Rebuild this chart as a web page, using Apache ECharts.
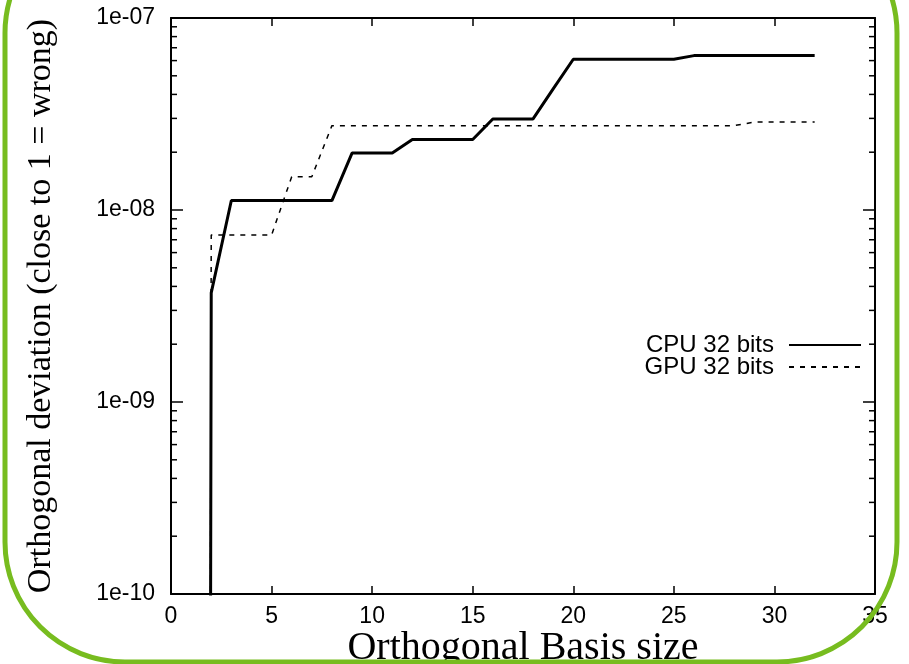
<!DOCTYPE html>
<html>
<head>
<meta charset="utf-8">
<script src="https://cdn.jsdelivr.net/npm/echarts@6/dist/echarts.min.js"></script>
<style>
html, body { margin: 0; padding: 0; background: #fff; }
#chart { width: 909px; height: 664px; }
</style>
</head>
<body>
<div id="chart"></div>
<script>
// basis size on x, deviation on log y (x=1 is ~0, drawn off the bottom)
const basisSize = [1, 2, 3, 4, 5, 6, 7, 8, 9, 10, 11, 12, 13, 14, 15, 16, 17, 18, 19, 20, 21, 22, 23, 24, 25, 26, 27, 28, 29, 30, 31, 32]
const cpu32 = [1e-60, 3.7e-9, 1.12e-8, 1.12e-8, 1.12e-8, 1.12e-8, 1.12e-8, 1.12e-8, 1.98e-8, 1.98e-8, 1.98e-8, 2.33e-8, 2.33e-8, 2.33e-8, 2.33e-8, 2.98e-8, 2.98e-8, 2.98e-8, 4.27e-8, 6.1e-8, 6.1e-8, 6.1e-8, 6.1e-8, 6.1e-8, 6.1e-8, 6.37e-8, 6.37e-8, 6.37e-8, 6.37e-8, 6.37e-8, 6.37e-8, 6.37e-8]
const gpu32 = [1e-60, 7.4e-9, 7.4e-9, 7.4e-9, 7.4e-9, 1.49e-8, 1.49e-8, 2.75e-8, 2.75e-8, 2.75e-8, 2.75e-8, 2.75e-8, 2.75e-8, 2.75e-8, 2.75e-8, 2.75e-8, 2.75e-8, 2.75e-8, 2.75e-8, 2.75e-8, 2.75e-8, 2.75e-8, 2.75e-8, 2.75e-8, 2.75e-8, 2.75e-8, 2.75e-8, 2.75e-8, 2.87e-8, 2.87e-8, 2.87e-8, 2.87e-8]
const yTickLabels = ['1e-10', '1e-09', '1e-08', '1e-07']
const yMinorTicks = [
  2e-10, 3e-10, 4e-10, 5e-10, 6e-10, 7e-10, 8e-10, 9e-10,
  2e-9, 3e-9, 4e-9, 5e-9, 6e-9, 7e-9, 8e-9, 9e-9,
  2e-8, 3e-8, 4e-8, 5e-8, 6e-8, 7e-8, 8e-8, 9e-8
]

const chart = echarts.init(document.getElementById('chart'))

const axisLine = { onZero: false, lineStyle: { color: '#000', width: 2 } }
const tickFont = { fontFamily: 'Liberation Sans', fontSize: 23, color: '#000' }

const xBase = {
  type: 'value',
  min: 0,
  max: 35,
  interval: 5,
  splitLine: { show: false },
  axisLine: axisLine,
  axisTick: { inside: true, length: 8, lineStyle: { color: '#000', width: 1.5 } }
}
const yBase = {
  type: 'log',
  logBase: 10,
  min: 1e-10,
  max: 1e-7,
  splitLine: { show: false },
  axisLine: axisLine,
  axisTick: { inside: true, length: 12, lineStyle: { color: '#000', width: 1.5 } }
}

chart.setOption({
  animation: false,
  backgroundColor: '#fff',
  grid: { left: 171, right: 34, top: 18, bottom: 70, containLabel: false, outerBoundsMode: 'none' },
  legend: {
    data: ['CPU 32 bits', 'GPU 32 bits'],
    orient: 'vertical',
    align: 'right',
    right: 42,
    top: 328,
    itemWidth: 72,
    itemHeight: 12,
    itemGap: -2,
    itemStyle: { opacity: 0 },
    textStyle: { fontFamily: 'Liberation Sans', fontSize: 24, lineHeight: 22, color: '#000', padding: [0, 10, 0, 0] }
  },
  xAxis: [
    Object.assign({}, xBase, {
      position: 'bottom',
      name: 'Orthogonal Basis size',
      nameLocation: 'middle',
      nameGap: 34,
      nameMoveOverlap: false,
      nameTextStyle: { fontFamily: 'Liberation Serif', fontSize: 40, color: '#000', verticalAlign: 'top' },
      axisLabel: Object.assign({ margin: 11 }, tickFont)
    }),
    Object.assign({}, xBase, { position: 'top', axisLabel: { show: false } })
  ],
  yAxis: [
    Object.assign({}, yBase, {
      position: 'left',
      name: 'Orthogonal deviation (close to 1 = wrong)',
      nameLocation: 'middle',
      nameGap: 113,
      nameMoveOverlap: false,
      nameTextStyle: { fontFamily: 'Liberation Serif', fontSize: 34, color: '#000' },
      axisLabel: Object.assign({
        margin: 16,
        formatter: v => yTickLabels[Math.round(Math.log10(v)) + 10]
      }, tickFont)
    }),
    Object.assign({}, yBase, { position: 'right', axisLabel: { show: false } })
  ],
  series: [
    {
      name: 'CPU 32 bits',
      type: 'line',
      data: basisSize.map((x, i) => [x, cpu32[i]]),
      showSymbol: false,
      symbol: 'none',
      color: '#000',
      lineStyle: { color: '#000', width: 3 },
      z: 3
    },
    {
      name: 'GPU 32 bits',
      type: 'line',
      data: basisSize.map((x, i) => [x, gpu32[i]]),
      showSymbol: false,
      symbol: 'none',
      color: '#000',
      lineStyle: { color: '#000', width: 1.5, type: [5, 6] },
      z: 2
    },
    {
      // minor log ticks on both y sides
      type: 'custom',
      silent: true,
      clip: false,
      data: yMinorTicks.map(v => [0, v]),
      encode: { x: 0, y: 1 },
      renderItem(params, api) {
        const y = api.coord([0, api.value(1)])[1]
        const x0 = params.coordSys.x
        const x1 = x0 + params.coordSys.width
        const style = { stroke: '#000', lineWidth: 1.5 }
        return {
          type: 'group',
          children: [
            { type: 'line', shape: { x1: x0, y1: y, x2: x0 + 6, y2: y }, style },
            { type: 'line', shape: { x1: x1, y1: y, x2: x1 - 6, y2: y }, style }
          ]
        }
      }
    }
  ],
  graphic: [{
    type: 'rect',
    z: 100,
    silent: true,
    shape: { x: 5, y: -87, width: 892, height: 749, r: 120 },
    style: { fill: 'none', stroke: '#77bc1f', lineWidth: 5 }
  }]
})
</script>
</body>
</html>
